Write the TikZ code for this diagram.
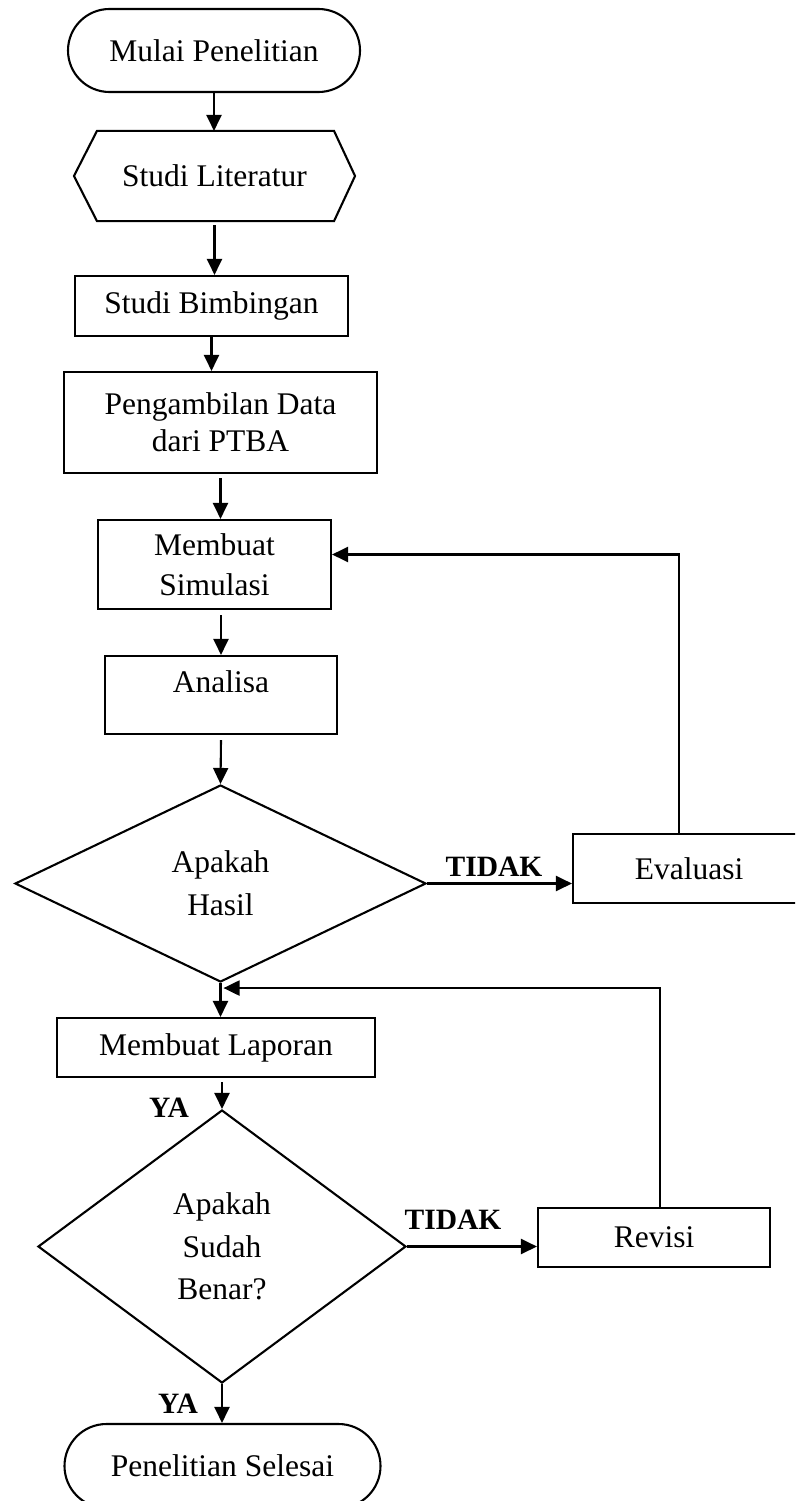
\documentclass[tikz,border=0pt]{standalone}
\usepackage{fontspec}
\setmainfont{Liberation Serif}
\usetikzlibrary{shapes.geometric,shapes.misc,arrows.meta}
\begin{document}
\begin{tikzpicture}[x=1pt,y=-1pt,
  every node/.style={font=\fontsize{31.5}{40}\selectfont, inner sep=0pt, line width=2.1pt},
  box/.style={draw, rectangle, align=center},
  term/.style={draw, rounded rectangle},
  dec/.style={draw, diamond, align=center},
  lbl/.style={font=\fontsize{29.5}{34}\selectfont\bfseries},
  arr/.style={line width=2.1pt, -{Triangle[width=15pt,length=16pt]}},
  ln/.style={line width=2.1pt}
]
\useasboundingbox (0,0) rectangle (795,1501);
\clip (0,0) rectangle (795,1501);

\node[term, minimum width=292, minimum height=83] (start) at (214,50.5) {Mulai Penelitian};
\node[minimum width=279, minimum height=88] (lit) at (214.5,176) {Studi Literatur};
\draw[ln] (lit.west) -- ([xshift=23]lit.north west) -- ([xshift=-21]lit.north east) -- (lit.east) -- ([xshift=-21]lit.south east) -- ([xshift=23]lit.south west) -- cycle;
\node[box, minimum width=273, minimum height=60] (bimb) at (211.5,306) {Studi Bimbingan};
\node[box, minimum width=313, minimum height=101, font=\fontsize{31.5}{37}\selectfont] (data) at (220.5,422.5) {Pengambilan Data\\dari PTBA};
\node[box, minimum width=233, minimum height=89] (sim) at (214.5,564.5) {Membuat\\Simulasi};
\node[draw, rectangle, minimum width=232, minimum height=78, text height=21, text depth=26] (anal) at (221,695) {Analisa};
\node[dec, minimum width=411, minimum height=197, font=\fontsize{31.5}{43}\selectfont] (d1) at (220.5,883.5) {Apakah\\Hasil};
\node[box, minimum width=232, minimum height=69] (eval) at (689,868.5) {Evaluasi};
\node[box, minimum width=318, minimum height=59] (lap) at (216,1047.5) {Membuat Laporan};
\node[dec, minimum width=368, minimum height=273, font=\fontsize{31.5}{42.5}\selectfont] (d2) at (222,1246.5) {Apakah\\Sudah\\Benar?};
\node[box, minimum width=232, minimum height=59] (rev) at (654,1237.5) {Revisi};
\node[term, minimum width=316, minimum height=84] (end) at (222.5,1466) {Penelitian Selesai};

\node[lbl] (t1) at (494,866.5) {TIDAK};
\node[lbl] (t2) at (453,1220) {TIDAK};
\node[lbl] (y1) at (169,1108) {YA};
\node[lbl] (y2) at (178,1404) {YA};

\draw[arr] (start.south) -- (start.south |- lit.north);
\draw[arr] ([yshift=-4]lit.south) -- (lit.south |- bimb.north);
\draw[arr] (bimb.south) -- (bimb.south |- data.north);
\draw[arr] ([yshift=-4]data.south) -- (data.south |- sim.north);
\draw[arr] ([yshift=-5]sim.south -| anal.north) -- (anal.north);
\draw[arr] ([yshift=-5]anal.south) -- (d1.north);
\draw[arr] (d1.east) -- (d1.east -| eval.west);
\coordinate (etop) at ([xshift=-10]eval.north);
\draw[arr] (etop) |- ([yshift=10]sim.east);
\draw[arr] (d1.south) -- (d1.south |- lap.north);
\coordinate (rtop) at ([xshift=6]rev.north);
\coordinate (join) at ([xshift=3,yshift=-5]d1.south);
\draw[arr] (rtop) |- (join);
\draw[arr] ([yshift=-4]lap.south -| d2.north) -- (d2.north);
\draw[arr] (d2.east) -- (d2.east -| rev.west);
\draw[arr] (d2.south) -- (d2.south |- end.north);
\end{tikzpicture}
\end{document}
